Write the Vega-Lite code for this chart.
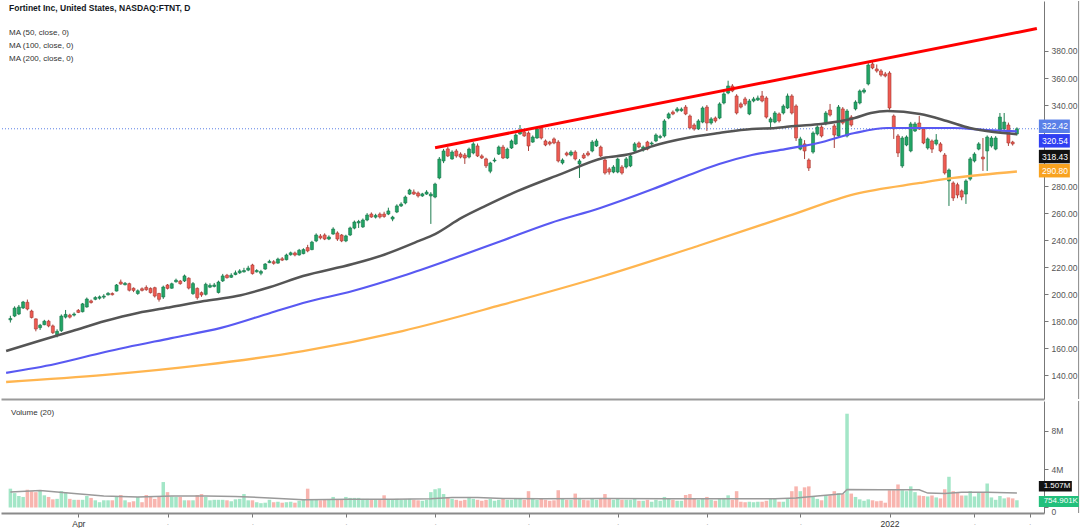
{
  "$schema": "https://vega.github.io/schema/vega-lite/v6.json",
  "padding": 0,
  "spacing": 0,
  "background": "#ffffff",
  "config": {
    "view": {"stroke": null},
    "font": "Liberation Sans",
    "axis": {"labelFont": "Liberation Sans", "labelFontSize": 8.5, "labelColor": "#555555", "tickColor": "#777777", "domainColor": "#777777", "grid": false, "labelOverlap": false}
  },
  "datasets": {
    "candles": [
      {"i":0,"open":181.0,"high":184.0,"low":179.0,"close":182.0,"volume":1.96},
      {"i":1,"open":183.8,"high":191.0,"low":183.0,"close":189.7,"volume":1.5},
      {"i":2,"open":185.3,"high":192.0,"low":184.5,"close":190.5,"volume":1.2},
      {"i":3,"open":189.8,"high":195.0,"low":189.0,"close":194.2,"volume":1.1},
      {"i":4,"open":194.0,"high":196.0,"low":188.0,"close":189.0,"volume":1.85},
      {"i":5,"open":187.5,"high":188.5,"low":182.0,"close":182.7,"volume":1.7},
      {"i":6,"open":181.7,"high":182.0,"low":172.5,"close":174.2,"volume":1.6},
      {"i":7,"open":175.2,"high":178.0,"low":173.5,"close":177.0,"volume":1.8},
      {"i":8,"open":177.4,"high":181.0,"low":177.0,"close":180.0,"volume":1.27},
      {"i":9,"open":180.0,"high":181.0,"low":175.5,"close":176.5,"volume":1.1},
      {"i":10,"open":176.5,"high":177.5,"low":170.5,"close":171.5,"volume":0.85},
      {"i":11,"open":169.4,"high":174.0,"low":168.0,"close":172.5,"volume":0.9},
      {"i":12,"open":173.0,"high":185.0,"low":172.0,"close":183.8,"volume":1.7},
      {"i":13,"open":183.0,"high":188.3,"low":182.0,"close":185.0,"volume":1.6},
      {"i":14,"open":184.5,"high":185.5,"low":182.0,"close":183.0,"volume":0.9},
      {"i":15,"open":184.5,"high":186.5,"low":183.5,"close":185.3,"volume":0.8},
      {"i":16,"open":188.0,"high":189.0,"low":186.0,"close":186.5,"volume":0.8},
      {"i":17,"open":187.0,"high":193.5,"low":186.5,"close":192.8,"volume":0.8},
      {"i":18,"open":190.5,"high":197.5,"low":190.0,"close":196.4,"volume":1.2},
      {"i":19,"open":195.0,"high":196.0,"low":193.0,"close":193.8,"volume":1.0},
      {"i":20,"open":196.2,"high":198.5,"low":195.5,"close":197.5,"volume":0.75},
      {"i":21,"open":197.0,"high":199.0,"low":196.0,"close":198.0,"volume":0.55},
      {"i":22,"open":197.8,"high":200.0,"low":196.5,"close":198.6,"volume":0.75},
      {"i":23,"open":199.5,"high":201.5,"low":199.0,"close":200.6,"volume":0.75},
      {"i":24,"open":200.5,"high":201.3,"low":199.0,"close":199.6,"volume":0.75},
      {"i":25,"open":202.3,"high":207.5,"low":202.0,"close":206.8,"volume":1.1},
      {"i":26,"open":209.0,"high":210.8,"low":207.0,"close":207.5,"volume":1.3},
      {"i":27,"open":207.0,"high":209.0,"low":206.5,"close":208.0,"volume":0.75},
      {"i":28,"open":207.8,"high":208.5,"low":202.0,"close":202.9,"volume":0.55},
      {"i":29,"open":204.4,"high":205.0,"low":201.5,"close":202.8,"volume":0.65},
      {"i":30,"open":200.5,"high":203.5,"low":199.5,"close":202.5,"volume":1.1},
      {"i":31,"open":204.0,"high":205.0,"low":202.0,"close":202.8,"volume":0.55},
      {"i":32,"open":205.0,"high":206.5,"low":202.5,"close":203.3,"volume":1.3},
      {"i":33,"open":204.3,"high":205.0,"low":200.5,"close":201.1,"volume":1.1},
      {"i":34,"open":204.8,"high":205.5,"low":197.5,"close":198.6,"volume":0.9},
      {"i":35,"open":200.5,"high":201.0,"low":194.5,"close":196.2,"volume":1.1},
      {"i":36,"open":197.9,"high":206.3,"low":196.5,"close":205.3,"volume":2.65},
      {"i":37,"open":206.8,"high":207.5,"low":203.5,"close":204.3,"volume":1.6},
      {"i":38,"open":204.4,"high":208.5,"low":204.0,"close":207.7,"volume":1.15},
      {"i":39,"open":209.2,"high":211.5,"low":208.5,"close":210.3,"volume":1.1},
      {"i":40,"open":209.7,"high":210.5,"low":207.0,"close":207.8,"volume":1.1},
      {"i":41,"open":209.8,"high":214.5,"low":209.0,"close":213.5,"volume":0.75},
      {"i":42,"open":211.8,"high":212.5,"low":203.5,"close":204.5,"volume":0.75},
      {"i":43,"open":200.4,"high":209.0,"low":199.5,"close":207.8,"volume":0.75},
      {"i":44,"open":204.3,"high":205.0,"low":196.0,"close":197.4,"volume":1.3},
      {"i":45,"open":201.1,"high":202.0,"low":198.0,"close":199.4,"volume":1.4},
      {"i":46,"open":199.9,"high":208.5,"low":199.0,"close":207.3,"volume":1.1},
      {"i":47,"open":205.2,"high":208.0,"low":204.5,"close":206.5,"volume":0.75},
      {"i":48,"open":205.7,"high":208.3,"low":205.0,"close":206.8,"volume":0.8},
      {"i":49,"open":201.2,"high":210.0,"low":200.5,"close":209.0,"volume":0.8},
      {"i":50,"open":209.8,"high":215.0,"low":209.0,"close":213.5,"volume":0.8},
      {"i":51,"open":214.0,"high":215.0,"low":211.5,"close":212.2,"volume":0.75},
      {"i":52,"open":212.5,"high":215.5,"low":212.0,"close":214.0,"volume":0.65},
      {"i":53,"open":214.5,"high":217.5,"low":214.0,"close":215.8,"volume":0.85},
      {"i":54,"open":215.8,"high":218.5,"low":215.0,"close":217.2,"volume":0.9},
      {"i":55,"open":216.5,"high":219.5,"low":216.0,"close":217.5,"volume":1.4},
      {"i":56,"open":217.8,"high":221.0,"low":217.0,"close":219.3,"volume":0.75},
      {"i":57,"open":221.6,"high":222.5,"low":214.5,"close":215.2,"volume":0.75},
      {"i":58,"open":216.5,"high":218.5,"low":216.0,"close":217.5,"volume":0.55},
      {"i":59,"open":215.5,"high":218.0,"low":214.0,"close":216.8,"volume":0.45},
      {"i":60,"open":218.6,"high":223.0,"low":218.0,"close":222.3,"volume":0.5},
      {"i":61,"open":223.3,"high":225.5,"low":223.0,"close":224.3,"volume":0.8},
      {"i":62,"open":224.0,"high":225.2,"low":221.8,"close":222.8,"volume":0.55},
      {"i":63,"open":223.0,"high":227.0,"low":222.5,"close":226.0,"volume":0.6},
      {"i":64,"open":226.2,"high":227.5,"low":224.5,"close":225.2,"volume":0.5},
      {"i":65,"open":225.5,"high":230.0,"low":225.0,"close":229.0,"volume":0.55},
      {"i":66,"open":229.2,"high":231.5,"low":228.5,"close":230.6,"volume":0.6},
      {"i":67,"open":230.5,"high":231.5,"low":228.0,"close":229.0,"volume":0.5},
      {"i":68,"open":229.0,"high":233.5,"low":228.5,"close":232.5,"volume":0.7},
      {"i":69,"open":230.0,"high":234.0,"low":229.5,"close":233.0,"volume":0.8},
      {"i":70,"open":234.5,"high":236.5,"low":231.0,"close":232.0,"volume":1.96},
      {"i":71,"open":233.0,"high":239.5,"low":232.5,"close":238.5,"volume":0.8},
      {"i":72,"open":239.4,"high":245.0,"low":238.5,"close":243.8,"volume":0.8},
      {"i":73,"open":243.0,"high":244.5,"low":240.5,"close":241.6,"volume":0.75},
      {"i":74,"open":243.8,"high":245.0,"low":240.0,"close":240.8,"volume":0.8},
      {"i":75,"open":240.8,"high":243.5,"low":240.0,"close":242.3,"volume":0.8},
      {"i":76,"open":244.5,"high":249.5,"low":244.0,"close":248.2,"volume":1.1},
      {"i":77,"open":245.3,"high":246.5,"low":239.4,"close":240.8,"volume":0.8},
      {"i":78,"open":243.8,"high":244.5,"low":238.5,"close":239.4,"volume":0.8},
      {"i":79,"open":239.4,"high":244.0,"low":238.5,"close":243.1,"volume":1.1},
      {"i":80,"open":243.8,"high":250.0,"low":243.0,"close":249.0,"volume":1.0},
      {"i":81,"open":248.9,"high":254.5,"low":248.0,"close":253.4,"volume":1.0},
      {"i":82,"open":252.7,"high":255.0,"low":249.0,"close":253.8,"volume":1.0},
      {"i":83,"open":249.8,"high":256.0,"low":249.0,"close":254.9,"volume":0.9},
      {"i":84,"open":254.9,"high":260.0,"low":254.0,"close":258.6,"volume":0.9},
      {"i":85,"open":259.3,"high":260.5,"low":256.5,"close":257.1,"volume":0.85},
      {"i":86,"open":257.0,"high":259.5,"low":256.0,"close":258.3,"volume":0.8},
      {"i":87,"open":259.3,"high":260.5,"low":256.0,"close":257.1,"volume":0.8},
      {"i":88,"open":259.3,"high":261.0,"low":256.5,"close":257.5,"volume":1.27},
      {"i":89,"open":259.3,"high":264.0,"low":258.5,"close":261.6,"volume":0.85},
      {"i":90,"open":255.6,"high":258.0,"low":254.0,"close":257.1,"volume":0.8},
      {"i":91,"open":260.8,"high":266.5,"low":260.0,"close":265.3,"volume":0.9},
      {"i":92,"open":265.3,"high":268.0,"low":264.5,"close":266.7,"volume":0.8},
      {"i":93,"open":267.5,"high":273.0,"low":266.5,"close":271.9,"volume":0.85},
      {"i":94,"open":274.1,"high":278.0,"low":273.5,"close":277.1,"volume":0.9},
      {"i":95,"open":275.6,"high":277.5,"low":273.5,"close":274.1,"volume":0.8},
      {"i":96,"open":274.9,"high":276.0,"low":271.5,"close":272.7,"volume":0.75},
      {"i":97,"open":272.7,"high":275.0,"low":272.0,"close":274.2,"volume":0.7},
      {"i":98,"open":274.1,"high":277.0,"low":273.5,"close":275.6,"volume":0.8},
      {"i":99,"open":272.7,"high":275.5,"low":252.0,"close":274.1,"volume":1.6},
      {"i":100,"open":271.9,"high":282.5,"low":271.0,"close":281.5,"volume":1.9},
      {"i":101,"open":286.0,"high":301.5,"low":285.0,"close":300.0,"volume":2.0},
      {"i":102,"open":298.6,"high":307.5,"low":297.0,"close":306.0,"volume":1.4},
      {"i":103,"open":307.5,"high":309.0,"low":301.5,"close":302.3,"volume":1.1},
      {"i":104,"open":300.1,"high":306.5,"low":299.5,"close":305.2,"volume":0.9},
      {"i":105,"open":306.0,"high":307.5,"low":301.0,"close":302.3,"volume":0.8},
      {"i":106,"open":303.7,"high":305.0,"low":300.5,"close":301.5,"volume":0.7},
      {"i":107,"open":303.0,"high":304.5,"low":296.4,"close":300.8,"volume":0.8},
      {"i":108,"open":301.5,"high":308.5,"low":300.5,"close":307.4,"volume":1.1},
      {"i":109,"open":304.5,"high":312.5,"low":303.5,"close":311.2,"volume":0.9},
      {"i":110,"open":309.7,"high":311.5,"low":301.5,"close":302.3,"volume":0.8},
      {"i":111,"open":302.3,"high":303.5,"low":300.0,"close":300.8,"volume":0.7},
      {"i":112,"open":300.1,"high":301.0,"low":293.4,"close":295.0,"volume":0.8},
      {"i":113,"open":291.0,"high":298.0,"low":289.5,"close":297.1,"volume":0.9},
      {"i":114,"open":298.6,"high":301.0,"low":297.5,"close":299.3,"volume":0.7},
      {"i":115,"open":303.7,"high":310.0,"low":303.0,"close":308.9,"volume":0.8},
      {"i":116,"open":308.9,"high":310.5,"low":300.0,"close":300.8,"volume":0.9},
      {"i":117,"open":300.8,"high":308.5,"low":300.0,"close":307.4,"volume":0.8},
      {"i":118,"open":308.2,"high":314.5,"low":307.5,"close":313.4,"volume":0.8},
      {"i":119,"open":311.2,"high":319.0,"low":310.5,"close":317.8,"volume":0.9},
      {"i":120,"open":318.6,"high":325.2,"low":318.0,"close":320.8,"volume":0.9},
      {"i":121,"open":320.1,"high":321.5,"low":316.5,"close":317.1,"volume":0.8},
      {"i":122,"open":319.3,"high":320.5,"low":306.0,"close":309.7,"volume":1.7},
      {"i":123,"open":312.6,"high":317.5,"low":312.0,"close":316.3,"volume":0.9},
      {"i":124,"open":315.6,"high":323.5,"low":315.0,"close":322.3,"volume":0.8},
      {"i":125,"open":323.0,"high":324.5,"low":314.5,"close":315.6,"volume":0.9},
      {"i":126,"open":313.4,"high":314.5,"low":309.5,"close":310.4,"volume":0.8},
      {"i":127,"open":312.6,"high":313.5,"low":310.0,"close":311.2,"volume":0.7},
      {"i":128,"open":314.9,"high":316.0,"low":311.0,"close":311.9,"volume":0.75},
      {"i":129,"open":312.6,"high":314.0,"low":297.5,"close":298.6,"volume":1.8},
      {"i":130,"open":297.1,"high":300.5,"low":296.0,"close":299.3,"volume":0.9},
      {"i":131,"open":304.5,"high":305.5,"low":302.0,"close":303.0,"volume":0.8},
      {"i":132,"open":303.0,"high":306.5,"low":302.0,"close":305.2,"volume":0.8},
      {"i":133,"open":305.2,"high":306.5,"low":299.0,"close":300.1,"volume":1.45},
      {"i":134,"open":296.4,"high":300.0,"low":286.0,"close":298.6,"volume":1.0},
      {"i":135,"open":303.0,"high":304.5,"low":300.0,"close":300.8,"volume":0.8},
      {"i":136,"open":304.5,"high":306.0,"low":302.0,"close":303.0,"volume":0.75},
      {"i":137,"open":306.0,"high":314.0,"low":305.0,"close":312.6,"volume":0.9},
      {"i":138,"open":309.7,"high":315.0,"low":309.0,"close":313.4,"volume":0.8},
      {"i":139,"open":308.9,"high":310.0,"low":301.5,"close":302.3,"volume":0.9},
      {"i":140,"open":299.3,"high":300.5,"low":288.5,"close":289.7,"volume":1.4},
      {"i":141,"open":292.7,"high":294.0,"low":288.5,"close":290.4,"volume":0.9},
      {"i":142,"open":290.4,"high":295.5,"low":289.5,"close":294.1,"volume":0.8},
      {"i":143,"open":290.4,"high":301.0,"low":289.5,"close":300.0,"volume":0.9},
      {"i":144,"open":294.1,"high":295.5,"low":288.5,"close":289.7,"volume":0.8},
      {"i":145,"open":294.1,"high":301.5,"low":293.0,"close":300.1,"volume":0.8},
      {"i":146,"open":294.9,"high":303.5,"low":294.0,"close":302.3,"volume":0.8},
      {"i":147,"open":306.0,"high":312.5,"low":305.0,"close":311.2,"volume":0.9},
      {"i":148,"open":311.9,"high":313.0,"low":308.0,"close":308.9,"volume":0.7},
      {"i":149,"open":306.7,"high":310.0,"low":305.5,"close":308.9,"volume":0.7},
      {"i":150,"open":312.6,"high":313.5,"low":306.5,"close":307.4,"volume":0.8},
      {"i":151,"open":311.2,"high":313.0,"low":310.0,"close":311.9,"volume":0.6},
      {"i":152,"open":313.4,"high":319.0,"low":312.5,"close":317.8,"volume":0.8},
      {"i":153,"open":316.0,"high":318.0,"low":315.0,"close":316.8,"volume":0.7},
      {"i":154,"open":317.1,"high":329.5,"low":316.0,"close":328.2,"volume":1.1},
      {"i":155,"open":330.4,"high":334.5,"low":329.5,"close":333.4,"volume":0.9},
      {"i":156,"open":334.8,"high":336.0,"low":332.5,"close":333.4,"volume":0.8},
      {"i":157,"open":335.6,"high":338.5,"low":334.5,"close":337.1,"volume":0.7},
      {"i":158,"open":335.8,"high":338.2,"low":335.0,"close":337.0,"volume":0.7},
      {"i":159,"open":338.5,"high":340.0,"low":332.5,"close":333.4,"volume":1.3},
      {"i":160,"open":331.9,"high":333.0,"low":322.0,"close":323.0,"volume":1.4},
      {"i":161,"open":325.2,"high":326.5,"low":321.0,"close":322.3,"volume":0.9},
      {"i":162,"open":322.3,"high":329.5,"low":321.5,"close":328.2,"volume":0.8},
      {"i":163,"open":327.4,"high":339.0,"low":326.5,"close":337.8,"volume":0.9},
      {"i":164,"open":338.5,"high":340.0,"low":320.8,"close":326.7,"volume":1.1},
      {"i":165,"open":326.7,"high":331.0,"low":325.5,"close":329.7,"volume":0.8},
      {"i":166,"open":330.4,"high":331.5,"low":327.0,"close":328.2,"volume":0.7},
      {"i":167,"open":330.4,"high":342.0,"low":329.5,"close":340.8,"volume":0.9},
      {"i":168,"open":341.5,"high":349.5,"low":340.5,"close":348.2,"volume":1.0},
      {"i":169,"open":348.9,"high":358.0,"low":348.0,"close":354.1,"volume":1.27},
      {"i":170,"open":354.1,"high":355.5,"low":349.5,"close":350.4,"volume":0.8},
      {"i":171,"open":346.7,"high":348.0,"low":333.0,"close":334.1,"volume":1.7},
      {"i":172,"open":340.8,"high":342.0,"low":337.5,"close":338.5,"volume":0.6},
      {"i":173,"open":344.5,"high":346.0,"low":339.5,"close":340.8,"volume":0.55},
      {"i":174,"open":333.4,"high":344.5,"low":332.5,"close":343.0,"volume":0.6},
      {"i":175,"open":343.0,"high":346.0,"low":342.0,"close":344.5,"volume":0.55},
      {"i":176,"open":343.7,"high":347.0,"low":343.0,"close":345.2,"volume":0.6},
      {"i":177,"open":346.7,"high":350.4,"low":342.0,"close":343.0,"volume":0.6},
      {"i":178,"open":345.2,"high":346.5,"low":330.0,"close":331.1,"volume":0.7},
      {"i":179,"open":327.4,"high":331.0,"low":322.0,"close":329.7,"volume":0.9},
      {"i":180,"open":327.4,"high":335.5,"low":326.5,"close":334.1,"volume":0.95},
      {"i":181,"open":333.4,"high":334.5,"low":327.0,"close":328.2,"volume":0.6},
      {"i":182,"open":334.1,"high":340.5,"low":333.0,"close":339.2,"volume":0.6},
      {"i":183,"open":337.8,"high":348.5,"low":337.0,"close":346.7,"volume":0.9},
      {"i":184,"open":346.7,"high":348.0,"low":333.0,"close":334.1,"volume":1.7},
      {"i":185,"open":339.3,"high":340.5,"low":313.4,"close":315.6,"volume":2.2},
      {"i":186,"open":307.4,"high":316.5,"low":306.5,"close":314.9,"volume":1.7},
      {"i":187,"open":311.2,"high":314.0,"low":300.0,"close":306.0,"volume":2.1},
      {"i":188,"open":299.3,"high":300.5,"low":291.2,"close":293.4,"volume":2.2},
      {"i":189,"open":305.2,"high":320.5,"low":304.0,"close":319.3,"volume":1.2},
      {"i":190,"open":318.6,"high":325.0,"low":317.5,"close":323.7,"volume":0.9},
      {"i":191,"open":323.7,"high":325.0,"low":316.0,"close":317.1,"volume":0.75},
      {"i":192,"open":326.0,"high":335.5,"low":325.0,"close":334.1,"volume":1.27},
      {"i":193,"open":336.3,"high":340.8,"low":331.5,"close":332.6,"volume":1.27},
      {"i":194,"open":324.5,"high":326.0,"low":308.2,"close":317.8,"volume":1.7},
      {"i":195,"open":317.1,"high":340.0,"low":316.0,"close":338.5,"volume":1.5},
      {"i":196,"open":337.1,"high":338.5,"low":325.5,"close":326.7,"volume":1.4},
      {"i":197,"open":317.1,"high":337.0,"low":316.0,"close":335.6,"volume":9.77},
      {"i":198,"open":331.1,"high":332.5,"low":324.0,"close":325.2,"volume":1.45},
      {"i":199,"open":337.1,"high":343.5,"low":336.0,"close":342.2,"volume":1.1},
      {"i":200,"open":341.5,"high":351.5,"low":340.5,"close":350.4,"volume":0.85},
      {"i":201,"open":349.6,"high":352.5,"low":348.5,"close":351.1,"volume":0.7},
      {"i":202,"open":355.6,"high":371.0,"low":354.5,"close":369.6,"volume":0.85},
      {"i":203,"open":370.4,"high":372.0,"low":366.5,"close":367.4,"volume":0.75},
      {"i":204,"open":366.7,"high":370.0,"low":364.0,"close":365.2,"volume":0.65},
      {"i":205,"open":365.2,"high":366.5,"low":361.0,"close":362.2,"volume":0.7},
      {"i":206,"open":363.0,"high":364.5,"low":360.5,"close":361.5,"volume":0.5},
      {"i":207,"open":363.7,"high":365.0,"low":336.5,"close":337.8,"volume":1.8},
      {"i":208,"open":331.9,"high":333.0,"low":314.9,"close":322.3,"volume":1.8},
      {"i":209,"open":317.1,"high":318.5,"low":301.5,"close":304.5,"volume":2.4},
      {"i":210,"open":294.9,"high":317.0,"low":293.5,"close":315.6,"volume":1.8},
      {"i":211,"open":310.4,"high":317.5,"low":309.5,"close":316.3,"volume":1.7},
      {"i":212,"open":306.0,"high":327.5,"low":305.0,"close":326.0,"volume":2.2},
      {"i":213,"open":320.8,"high":327.5,"low":320.0,"close":326.0,"volume":1.6},
      {"i":214,"open":326.7,"high":331.9,"low":321.5,"close":322.3,"volume":1.25},
      {"i":215,"open":322.3,"high":323.5,"low":311.0,"close":311.9,"volume":1.2},
      {"i":216,"open":308.2,"high":316.0,"low":307.0,"close":314.9,"volume":1.15},
      {"i":217,"open":313.4,"high":314.5,"low":304.5,"close":307.4,"volume":1.25},
      {"i":218,"open":311.2,"high":318.5,"low":310.0,"close":314.1,"volume":1.05},
      {"i":219,"open":311.2,"high":312.5,"low":305.0,"close":306.0,"volume":0.95},
      {"i":220,"open":303.0,"high":304.5,"low":288.5,"close":289.7,"volume":1.9},
      {"i":221,"open":283.8,"high":293.0,"low":265.3,"close":291.9,"volume":3.2},
      {"i":222,"open":282.3,"high":283.5,"low":269.0,"close":271.2,"volume":1.7},
      {"i":223,"open":281.0,"high":282.5,"low":271.0,"close":273.4,"volume":1.6},
      {"i":224,"open":276.4,"high":277.5,"low":269.5,"close":271.9,"volume":1.25},
      {"i":225,"open":274.1,"high":285.0,"low":266.8,"close":283.8,"volume":1.25},
      {"i":226,"open":285.2,"high":301.5,"low":284.0,"close":300.1,"volume":1.7},
      {"i":227,"open":298.6,"high":305.0,"low":297.5,"close":303.7,"volume":1.15},
      {"i":228,"open":307.4,"high":312.5,"low":306.5,"close":311.2,"volume":1.6},
      {"i":229,"open":301.5,"high":315.6,"low":291.2,"close":300.1,"volume":1.6},
      {"i":230,"open":306.0,"high":317.5,"low":291.2,"close":316.3,"volume":2.5},
      {"i":231,"open":309.7,"high":317.0,"low":308.5,"close":315.6,"volume":1.05},
      {"i":232,"open":307.4,"high":317.0,"low":306.5,"close":315.6,"volume":0.8},
      {"i":233,"open":320.8,"high":334.1,"low":320.0,"close":331.1,"volume":1.2},
      {"i":234,"open":322.3,"high":334.1,"low":321.5,"close":327.4,"volume":0.95},
      {"i":235,"open":325.2,"high":327.0,"low":309.7,"close":311.9,"volume":1.05},
      {"i":236,"open":312.6,"high":313.5,"low":310.0,"close":311.2,"volume":0.95},
      {"i":237,"open":318.6,"high":323.5,"low":317.5,"close":322.42,"volume":0.754901}
    ],
    "ma": [
      {"line":"MA50","i":-1,"value":157.9},{"line":"MA50","i":6.7,"value":165.3},{"line":"MA50","i":14.6,"value":172.7},{"line":"MA50","i":22.3,"value":180.1},{"line":"MA50","i":30,"value":186.1},{"line":"MA50","i":37.9,"value":190.5},{"line":"MA50","i":45.6,"value":194.9},{"line":"MA50","i":53.3,"value":198.6},{"line":"MA50","i":61.2,"value":205.3},{"line":"MA50","i":68.9,"value":213.4},{"line":"MA50","i":80.6,"value":222.3},{"line":"MA50","i":88,"value":229.2},{"line":"MA50","i":96.2,"value":239.4},{"line":"MA50","i":100,"value":244.5},{"line":"MA50","i":106.2,"value":256.4},{"line":"MA50","i":112,"value":265.5},{"line":"MA50","i":119.5,"value":276.4},{"line":"MA50","i":129.6,"value":288.9},{"line":"MA50","i":139.6,"value":300.8},{"line":"MA50","i":145.9,"value":303.7},{"line":"MA50","i":151.3,"value":309.7},{"line":"MA50","i":159.2,"value":315.6},{"line":"MA50","i":166.9,"value":319.3},{"line":"MA50","i":174.6,"value":322.3},{"line":"MA50","i":180.2,"value":323.0},{"line":"MA50","i":184.8,"value":324.5},{"line":"MA50","i":190.9,"value":326.0},{"line":"MA50","i":198.8,"value":330.4},{"line":"MA50","i":202.6,"value":334.1},{"line":"MA50","i":206.5,"value":335.6},{"line":"MA50","i":214.2,"value":333.4},{"line":"MA50","i":220.5,"value":328.2},{"line":"MA50","i":225.9,"value":323.0},{"line":"MA50","i":231.5,"value":320.0},{"line":"MA50","i":237,"value":318.43},
      {"line":"MA100","i":-1,"value":141.7},{"line":"MA100","i":10.6,"value":148.3},{"line":"MA100","i":22.3,"value":157.2},{"line":"MA100","i":37.9,"value":167.5},{"line":"MA100","i":49.6,"value":175.0},{"line":"MA100","i":61.2,"value":186.1},{"line":"MA100","i":68.9,"value":193.5},{"line":"MA100","i":80.6,"value":202.3},{"line":"MA100","i":92.3,"value":213.4},{"line":"MA100","i":103.9,"value":226.0},{"line":"MA100","i":115.6,"value":239.4},{"line":"MA100","i":127.2,"value":252.7},{"line":"MA100","i":138.9,"value":263.8},{"line":"MA100","i":151.3,"value":277.8},{"line":"MA100","i":159.2,"value":287.5},{"line":"MA100","i":166.9,"value":296.3},{"line":"MA100","i":174.6,"value":303.0},{"line":"MA100","i":182.5,"value":307.4},{"line":"MA100","i":190.2,"value":311.9},{"line":"MA100","i":198.8,"value":319.3},{"line":"MA100","i":206.5,"value":323.0},{"line":"MA100","i":214.2,"value":323.0},{"line":"MA100","i":222.1,"value":323.0},{"line":"MA100","i":229.8,"value":321.5},{"line":"MA100","i":237,"value":320.54},
      {"line":"MA200","i":-1,"value":135.0},{"line":"MA200","i":22.3,"value":140.2},{"line":"MA200","i":45.6,"value":147.6},{"line":"MA200","i":68.9,"value":157.9},{"line":"MA200","i":92.3,"value":172.7},{"line":"MA200","i":115.6,"value":192.0},{"line":"MA200","i":138.9,"value":212.7},{"line":"MA200","i":162.2,"value":236.0},{"line":"MA200","i":183.2,"value":257.9},{"line":"MA200","i":198.8,"value":274.1},{"line":"MA200","i":214.2,"value":282.3},{"line":"MA200","i":222.1,"value":286.0},{"line":"MA200","i":237,"value":290.8}
    ],
    "vma": [
      {"i":0,"value":1.62},{"i":7,"value":1.78},{"i":15,"value":1.45},{"i":22,"value":1.2},{"i":30,"value":1.1},{"i":38,"value":1.2},{"i":46,"value":1.2},{"i":53,"value":1.15},{"i":61,"value":1.0},{"i":69,"value":0.82},{"i":80,"value":0.85},{"i":90,"value":0.85},{"i":99,"value":0.9},{"i":104,"value":1.05},{"i":110,"value":1.05},{"i":116,"value":0.95},{"i":125,"value":0.92},{"i":140,"value":0.95},{"i":155,"value":0.9},{"i":170,"value":0.9},{"i":180,"value":0.9},{"i":185,"value":1.0},{"i":190,"value":1.2},{"i":194,"value":1.35},{"i":196,"value":1.42},{"i":197,"value":1.88},{"i":205,"value":1.85},{"i":214,"value":1.85},{"i":216,"value":1.5},{"i":220,"value":1.45},{"i":224,"value":1.6},{"i":230,"value":1.6},{"i":237,"value":1.507}
    ],
    "trend": [
      {"i":100.0,"value":308.4},{"i":241.7,"value":396.6}
    ],
    "labels": [
      {"name":"last","value":322.42,"text":"322.42"},
      {"name":"ma100","value":320.54,"text":"320.54"},
      {"name":"ma50","value":318.43,"text":"318.43"},
      {"name":"ma200","value":290.80,"text":"290.80"},
      {"name":"vma","value":1.507,"text":"1.507M"},
      {"name":"vol","value":0.754901,"text":"754.901K"}
    ]
  },
  "vconcat": [
    {
      "width": 1043,
      "height": 398,
      "title": {
        "text": "Fortinet Inc, United States, NASDAQ:FTNT, D",
        "subtitle": ["MA (50, close, 0)", "MA (100, close, 0)", "MA (200, close, 0)"],
        "anchor": "start", "frame": "group", "orient": "top", "baseline": "top",
        "offset": -62, "dx": 8,
        "font": "Liberation Sans", "fontSize": 8.5, "fontWeight": "bold", "color": "#131722",
        "subtitleFont": "Liberation Sans", "subtitleFontSize": 8, "subtitleColor": "#333333",
        "subtitlePadding": 16, "subtitleLineHeight": 13
      },
      "layer": [
        {
          "data": {"name": "candles"},
          "mark": {"type": "rule", "strokeWidth": 1},
          "encoding": {
            "x": {"field": "i", "type": "quantitative", "scale": {"domain": [-1.03, 242.2], "nice": false, "zero": false},
                  "axis": {"orient": "bottom", "labels": false, "ticks": false, "domain": true, "domainColor": "#9a9a9a", "domainWidth": 2, "title": null, "grid": false}},
            "y": {"field": "low", "type": "quantitative", "scale": {"domain": [122.4, 417.0], "nice": false, "zero": false},
                  "axis": {"orient": "right", "values": [140, 160, 180, 200, 220, 240, 260, 280, 340, 360, 380], "tickCount": 30, "format": ".2f", "title": null, "tickSize": 4, "labelPadding": 3, "grid": false, "domain": true, "domainColor": "#777777", "labelOverlap": false, "labelFontSize": 8.5}},
            "y2": {"field": "high"},
            "color": {"condition": {"test": "datum.close >= datum.open", "value": "#1e7d4f"}, "value": "#a8403a"}
          }
        },
        {
          "data": {"name": "labels"},
          "transform": [{"filter": "datum.name == 'last'"}],
          "mark": {"type": "rule", "color": "#5b7fe6", "strokeDash": [1, 2], "strokeWidth": 1},
          "encoding": {
            "y": {"field": "value", "type": "quantitative", "scale": {"domain": [122.4, 417.0], "nice": false, "zero": false},
                  "axis": {"orient": "right", "values": [140, 160, 180, 200, 220, 240, 260, 280, 340, 360, 380], "tickCount": 30, "format": ".2f", "title": null, "tickSize": 4, "labelPadding": 3, "grid": false, "domain": true, "domainColor": "#777777", "labelOverlap": false, "labelFontSize": 8.5}}
          }
        },
        {
          "data": {"name": "candles"},
          "mark": {"type": "bar", "width": 3, "strokeWidth": 0.6},
          "encoding": {
            "x": {"field": "i", "type": "quantitative", "scale": {"domain": [-1.03, 242.2], "nice": false, "zero": false}, "axis": {"title": null}},
            "y": {"field": "open", "type": "quantitative", "scale": {"domain": [122.4, 417.0], "nice": false, "zero": false}, "axis": {"title": null}},
            "y2": {"field": "close"},
            "fill": {"condition": {"test": "datum.close >= datum.open", "value": "#22a565"}, "value": "#ef5b52"},
            "stroke": {"condition": {"test": "datum.close >= datum.open", "value": "#17744a"}, "value": "#a53a34"}
          }
        },
        {
          "data": {"name": "ma"},
          "transform": [{"filter": "datum.line == 'MA200'"}],
          "mark": {"type": "line", "color": "#ffb54f", "strokeWidth": 2.3, "interpolate": "monotone"},
          "encoding": {
            "x": {"field": "i", "type": "quantitative", "scale": {"domain": [-1.03, 242.2], "nice": false, "zero": false}, "axis": {"title": null}},
            "y": {"field": "value", "type": "quantitative", "scale": {"domain": [122.4, 417.0], "nice": false, "zero": false}, "axis": {"title": null}}
          }
        },
        {
          "data": {"name": "ma"},
          "transform": [{"filter": "datum.line == 'MA100'"}],
          "mark": {"type": "line", "color": "#5959f2", "strokeWidth": 2.2, "interpolate": "monotone"},
          "encoding": {
            "x": {"field": "i", "type": "quantitative", "scale": {"domain": [-1.03, 242.2], "nice": false, "zero": false}, "axis": {"title": null}},
            "y": {"field": "value", "type": "quantitative", "scale": {"domain": [122.4, 417.0], "nice": false, "zero": false}, "axis": {"title": null}}
          }
        },
        {
          "data": {"name": "ma"},
          "transform": [{"filter": "datum.line == 'MA50'"}],
          "mark": {"type": "line", "color": "#555555", "strokeWidth": 2.5, "interpolate": "monotone"},
          "encoding": {
            "x": {"field": "i", "type": "quantitative", "scale": {"domain": [-1.03, 242.2], "nice": false, "zero": false}, "axis": {"title": null}},
            "y": {"field": "value", "type": "quantitative", "scale": {"domain": [122.4, 417.0], "nice": false, "zero": false}, "axis": {"title": null}}
          }
        },
        {
          "data": {"name": "trend"},
          "mark": {"type": "line", "color": "#ff0000", "strokeWidth": 3},
          "encoding": {
            "x": {"field": "i", "type": "quantitative", "scale": {"domain": [-1.03, 242.2], "nice": false, "zero": false}, "axis": {"title": null}},
            "y": {"field": "value", "type": "quantitative", "scale": {"domain": [122.4, 417.0], "nice": false, "zero": false}, "axis": {"title": null}}
          }
        },
        {
          "data": {"values": [{}]},
          "mark": {"type": "rule", "color": "#888888", "strokeWidth": 1},
          "encoding": {
            "x": {"datum": 251.53, "type": "quantitative", "scale": {"domain": [-1.03, 242.2], "nice": false, "zero": false}, "axis": {"title": null}}
          }
        },
        {
          "data": {"name": "labels"},
          "transform": [{"filter": "datum.name == 'last'"}],
          "mark": {"type": "tick", "orient": "horizontal", "size": 31, "thickness": 13.5, "color": "#5a80e8", "opacity": 1, "yOffset": -2.5},
          "encoding": {
            "x": {"datum": 245.82, "type": "quantitative", "scale": {"domain": [-1.03, 242.2], "nice": false, "zero": false}, "axis": {"title": null}},
            "y": {"field": "value", "type": "quantitative", "scale": {"domain": [122.4, 417.0], "nice": false, "zero": false}, "axis": {"title": null}}
          }
        },
        {
          "data": {"name": "labels"},
          "transform": [{"filter": "datum.name == 'ma100'"}],
          "mark": {"type": "tick", "orient": "horizontal", "size": 31, "thickness": 13.5, "color": "#2f3ff2", "opacity": 1, "yOffset": 9.5},
          "encoding": {
            "x": {"datum": 245.82, "type": "quantitative", "scale": {"domain": [-1.03, 242.2], "nice": false, "zero": false}, "axis": {"title": null}},
            "y": {"field": "value", "type": "quantitative", "scale": {"domain": [122.4, 417.0], "nice": false, "zero": false}, "axis": {"title": null}}
          }
        },
        {
          "data": {"name": "labels"},
          "transform": [{"filter": "datum.name == 'ma50'"}],
          "mark": {"type": "tick", "orient": "horizontal", "size": 31, "thickness": 13.5, "color": "#111111", "opacity": 1, "yOffset": 22.4},
          "encoding": {
            "x": {"datum": 245.82, "type": "quantitative", "scale": {"domain": [-1.03, 242.2], "nice": false, "zero": false}, "axis": {"title": null}},
            "y": {"field": "value", "type": "quantitative", "scale": {"domain": [122.4, 417.0], "nice": false, "zero": false}, "axis": {"title": null}}
          }
        },
        {
          "data": {"name": "labels"},
          "transform": [{"filter": "datum.name == 'ma200'"}],
          "mark": {"type": "tick", "orient": "horizontal", "size": 31, "thickness": 13.5, "color": "#f8a21f", "opacity": 1, "yOffset": -0.8},
          "encoding": {
            "x": {"datum": 245.82, "type": "quantitative", "scale": {"domain": [-1.03, 242.2], "nice": false, "zero": false}, "axis": {"title": null}},
            "y": {"field": "value", "type": "quantitative", "scale": {"domain": [122.4, 417.0], "nice": false, "zero": false}, "axis": {"title": null}}
          }
        },
        {
          "data": {"name": "labels"},
          "transform": [{"filter": "datum.name == 'last'"}],
          "mark": {"type": "text", "align": "left", "baseline": "middle", "color": "#ffffff", "fontSize": 8.5, "font": "Liberation Sans", "yOffset": -2.5},
          "encoding": {
            "x": {"datum": 242.9, "type": "quantitative", "scale": {"domain": [-1.03, 242.2], "nice": false, "zero": false}, "axis": {"title": null}},
            "y": {"field": "value", "type": "quantitative", "scale": {"domain": [122.4, 417.0], "nice": false, "zero": false}, "axis": {"title": null}},
            "text": {"field": "text"}
          }
        },
        {
          "data": {"name": "labels"},
          "transform": [{"filter": "datum.name == 'ma100'"}],
          "mark": {"type": "text", "align": "left", "baseline": "middle", "color": "#ffffff", "fontSize": 8.5, "font": "Liberation Sans", "yOffset": 9.5},
          "encoding": {
            "x": {"datum": 242.9, "type": "quantitative", "scale": {"domain": [-1.03, 242.2], "nice": false, "zero": false}, "axis": {"title": null}},
            "y": {"field": "value", "type": "quantitative", "scale": {"domain": [122.4, 417.0], "nice": false, "zero": false}, "axis": {"title": null}},
            "text": {"field": "text"}
          }
        },
        {
          "data": {"name": "labels"},
          "transform": [{"filter": "datum.name == 'ma50'"}],
          "mark": {"type": "text", "align": "left", "baseline": "middle", "color": "#ffffff", "fontSize": 8.5, "font": "Liberation Sans", "yOffset": 22.4},
          "encoding": {
            "x": {"datum": 242.9, "type": "quantitative", "scale": {"domain": [-1.03, 242.2], "nice": false, "zero": false}, "axis": {"title": null}},
            "y": {"field": "value", "type": "quantitative", "scale": {"domain": [122.4, 417.0], "nice": false, "zero": false}, "axis": {"title": null}},
            "text": {"field": "text"}
          }
        },
        {
          "data": {"name": "labels"},
          "transform": [{"filter": "datum.name == 'ma200'"}],
          "mark": {"type": "text", "align": "left", "baseline": "middle", "color": "#ffffff", "fontSize": 8.5, "font": "Liberation Sans", "yOffset": -0.8},
          "encoding": {
            "x": {"datum": 242.9, "type": "quantitative", "scale": {"domain": [-1.03, 242.2], "nice": false, "zero": false}, "axis": {"title": null}},
            "y": {"field": "value", "type": "quantitative", "scale": {"domain": [122.4, 417.0], "nice": false, "zero": false}, "axis": {"title": null}},
            "text": {"field": "text"}
          }
        }
      ]
    },
    {
      "width": 1043,
      "height": 112,
      "title": {
        "text": "Volume (20)",
        "anchor": "start", "frame": "group", "orient": "top", "baseline": "top",
        "offset": -16, "dx": 10,
        "font": "Liberation Sans", "fontSize": 8, "fontWeight": "normal", "color": "#333333"
      },
      "layer": [
        {
          "data": {"name": "candles"},
          "mark": {"type": "bar", "width": 3.5},
          "encoding": {
            "x": {"field": "i", "type": "quantitative", "scale": {"domain": [-1.03, 242.2], "nice": false, "zero": false},
                  "axis": {"orient": "bottom", "values": [16, 37, 57, 79, 100, 122, 143, 164, 186, 207, 227, 240], "tickCount": 40,
                           "labelExpr": "datum.value == 16 ? 'Apr' : (datum.value == 207 ? '2022' : '·')",
                           "labelColor": {"condition": {"test": "datum.value == 16 || datum.value == 207", "value": "#333333"}, "value": "#bbbbbb"},
                           "domainColor": "#8a8a8a", "domainWidth": 2, "tickColor": "#777777", "tickSize": 4, "labelPadding": 2,
                           "labelFontSize": 8.5, "title": null, "grid": false, "labelOverlap": false, "labelFlush": false}},
            "y": {"field": "volume", "type": "quantitative", "scale": {"domain": [-0.573, 11.094], "nice": false, "zero": false},
                  "axis": {"orient": "right", "values": [0, 4, 8], "tickCount": 10, "labelExpr": "datum.value == 0 ? '0' : datum.value + 'M'", "title": null, "tickSize": 4, "labelPadding": 3, "grid": false, "domain": true, "domainColor": "#777777", "labelOverlap": false, "labelFontSize": 8.5,
                           "labelBaseline": {"condition": {"test": "datum.value == 0", "value": "top"}, "value": "middle"}}},
            "y2": {"datum": 0},
            "color": {"condition": {"test": "datum.close >= datum.open", "value": "#a3e6c7"}, "value": "#f8b5af"}
          }
        },
        {
          "data": {"name": "vma"},
          "mark": {"type": "line", "color": "#9a9a9a", "strokeWidth": 1.5},
          "encoding": {
            "x": {"field": "i", "type": "quantitative", "scale": {"domain": [-1.03, 242.2], "nice": false, "zero": false}, "axis": {"title": null}},
            "y": {"field": "value", "type": "quantitative", "scale": {"domain": [-0.573, 11.094], "nice": false, "zero": false}, "axis": {"title": null}}
          }
        },
        {
          "data": {"values": [{}]},
          "mark": {"type": "rule", "color": "#888888", "strokeWidth": 1},
          "encoding": {
            "x": {"datum": 251.53, "type": "quantitative", "scale": {"domain": [-1.03, 242.2], "nice": false, "zero": false}, "axis": {"title": null}}
          }
        },
        {
          "data": {"name": "labels"},
          "transform": [{"filter": "datum.name == 'vma'"}],
          "mark": {"type": "tick", "orient": "horizontal", "size": 33, "thickness": 10.5, "color": "#111111", "opacity": 1, "yOffset": -6.8},
          "encoding": {
            "x": {"datum": 246.05, "type": "quantitative", "scale": {"domain": [-1.03, 242.2], "nice": false, "zero": false}, "axis": {"title": null}},
            "y": {"field": "value", "type": "quantitative", "scale": {"domain": [-0.573, 11.094], "nice": false, "zero": false}, "axis": {"title": null}}
          }
        },
        {
          "data": {"name": "labels"},
          "transform": [{"filter": "datum.name == 'vol'"}],
          "mark": {"type": "tick", "orient": "horizontal", "size": 40, "thickness": 11, "color": "#22c07c", "opacity": 1, "yOffset": 1.2},
          "encoding": {
            "x": {"datum": 246.87, "type": "quantitative", "scale": {"domain": [-1.03, 242.2], "nice": false, "zero": false}, "axis": {"title": null}},
            "y": {"field": "value", "type": "quantitative", "scale": {"domain": [-0.573, 11.094], "nice": false, "zero": false}, "axis": {"title": null}}
          }
        },
        {
          "data": {"name": "labels"},
          "transform": [{"filter": "datum.name == 'vma'"}],
          "mark": {"type": "text", "align": "left", "baseline": "middle", "color": "#ffffff", "fontSize": 8, "font": "Liberation Sans", "yOffset": -6.8},
          "encoding": {
            "x": {"datum": 243.3, "type": "quantitative", "scale": {"domain": [-1.03, 242.2], "nice": false, "zero": false}, "axis": {"title": null}},
            "y": {"field": "value", "type": "quantitative", "scale": {"domain": [-0.573, 11.094], "nice": false, "zero": false}, "axis": {"title": null}},
            "text": {"field": "text"}
          }
        },
        {
          "data": {"name": "labels"},
          "transform": [{"filter": "datum.name == 'vol'"}],
          "mark": {"type": "text", "align": "left", "baseline": "middle", "color": "#ffffff", "fontSize": 8, "font": "Liberation Sans", "yOffset": 1.2},
          "encoding": {
            "x": {"datum": 243.3, "type": "quantitative", "scale": {"domain": [-1.03, 242.2], "nice": false, "zero": false}, "axis": {"title": null}},
            "y": {"field": "value", "type": "quantitative", "scale": {"domain": [-0.573, 11.094], "nice": false, "zero": false}, "axis": {"title": null}},
            "text": {"field": "text"}
          }
        }
      ]
    }
  ]
}
